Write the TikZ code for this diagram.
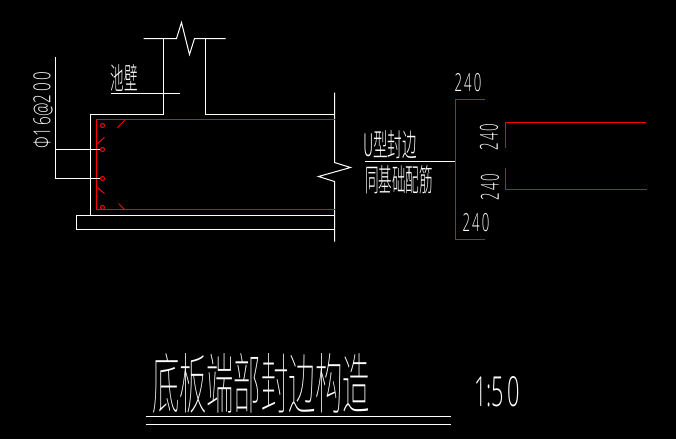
\documentclass[tikz,border=0pt]{standalone}
\usepackage{fontspec}
\setmainfont{Open Sans Light}
\newfontfamily\cjk{Noto Sans CJK SC}[UprightFont=* Light]
\newfontfamily\cjkthin{Noto Sans CJK SC}[UprightFont=* Thin]
\newcommand{\fitbox}[3]{\resizebox{#1pt}{#2pt}{#3}}
\definecolor{cadred}{RGB}{255,0,0}
\tikzset{
  wl/.style={draw=white,line width=1pt},
  rl/.style={draw=cadred,line width=1pt},
  bar/.style={draw=cadred,line width=1pt,fill=black,circle,minimum size=4pt,inner sep=0pt},
  lbl/.style={text=white,inner sep=0pt,outer sep=0pt,anchor=center}
}
\begin{document}
\begin{tikzpicture}[x=1pt,y=-1pt]
\useasboundingbox[fill=black] (0,0) rectangle (676,439);
\begin{scope}[shift={(0.5,0.5)}]
% wall and break line
\draw[wl] (143,38) -- (176,38) -- (181,22) -- (189,54) -- (194,38) -- (225,38);
\draw[wl] (163,38) -- (163,114) -- (90,114) -- (90,215);
\draw[wl] (205,38) -- (205,114) -- (334,114);
\draw[wl] (334,92) -- (334,162) -- (350,167) -- (318,176) -- (334,181) -- (334,241);
% slab
\draw[wl] (334,215) -- (76,215) -- (76,229) -- (334,229);
% reinforcement
\draw[rl] (334,119) -- (96,119) -- (96,209) -- (334,209);
\draw[rl] (117,127) -- (125,119);
\draw[rl] (97,143) -- (104,137);
\draw[rl] (97,187) -- (104,193);
\draw[rl] (118,203) -- (124,209);
% leaders
\draw[wl] (55,56) -- (55,178) -- (100,178);
\draw[wl] (55,149) -- (100,149);
\node[bar] (b1) at (102,125) {};
\node[bar] (b2) at (102,149) {};
\node[bar] (b3) at (102,178) {};
\node[bar] (b4) at (102,207) {};
\draw[wl] (110,93) -- (179,93);
\draw[wl] (364,161) -- (455,161);
% right section
\draw[rl] (484,99) -- (455,99) -- (455,239) -- (484,239);
\draw[rl] (505,147) -- (505,122) -- (645,122);
\draw[rl] (505,167) -- (505,189) -- (646,189);
% title rules
\draw[wl] (145,416) -- (450,416);
\draw[wl] (145,424) -- (450,424);
\end{scope}
% labels
\node[lbl,rotate=90] (t1) at (43,110) {\fitbox{76}{17}{Φ1\,6@2\,0\,0}};
\node[lbl] (t2) at (124,78) {\fitbox{27}{25}{\cjk 池壁}};
\node[lbl] (t3) at (390,145) {\fitbox{54}{26}{\cjk U型封边}};
\node[lbl] (t4) at (399,180) {\fitbox{68}{26}{\cjk 同基础配筋}};
\node[lbl] (t5) at (468,83) {\fitbox{27}{18}{2\,4\,0}};
\node[lbl] (t6) at (476,223) {\fitbox{27}{18}{2\,4\,0}};
\node[lbl,rotate=90] (t7) at (489,137) {\fitbox{27}{18}{2\,4\,0}};
\node[lbl,rotate=90] (t8) at (490,187) {\fitbox{27}{18}{2\,4\,0}};
\node[lbl] (t9) at (261,384) {\fitbox{218}{55}{\cjkthin 底板端部封边构造}};
\node[lbl] (t10) at (497,392) {\fitbox{46}{30}{1:5\,0}};
\end{tikzpicture}
\end{document}
